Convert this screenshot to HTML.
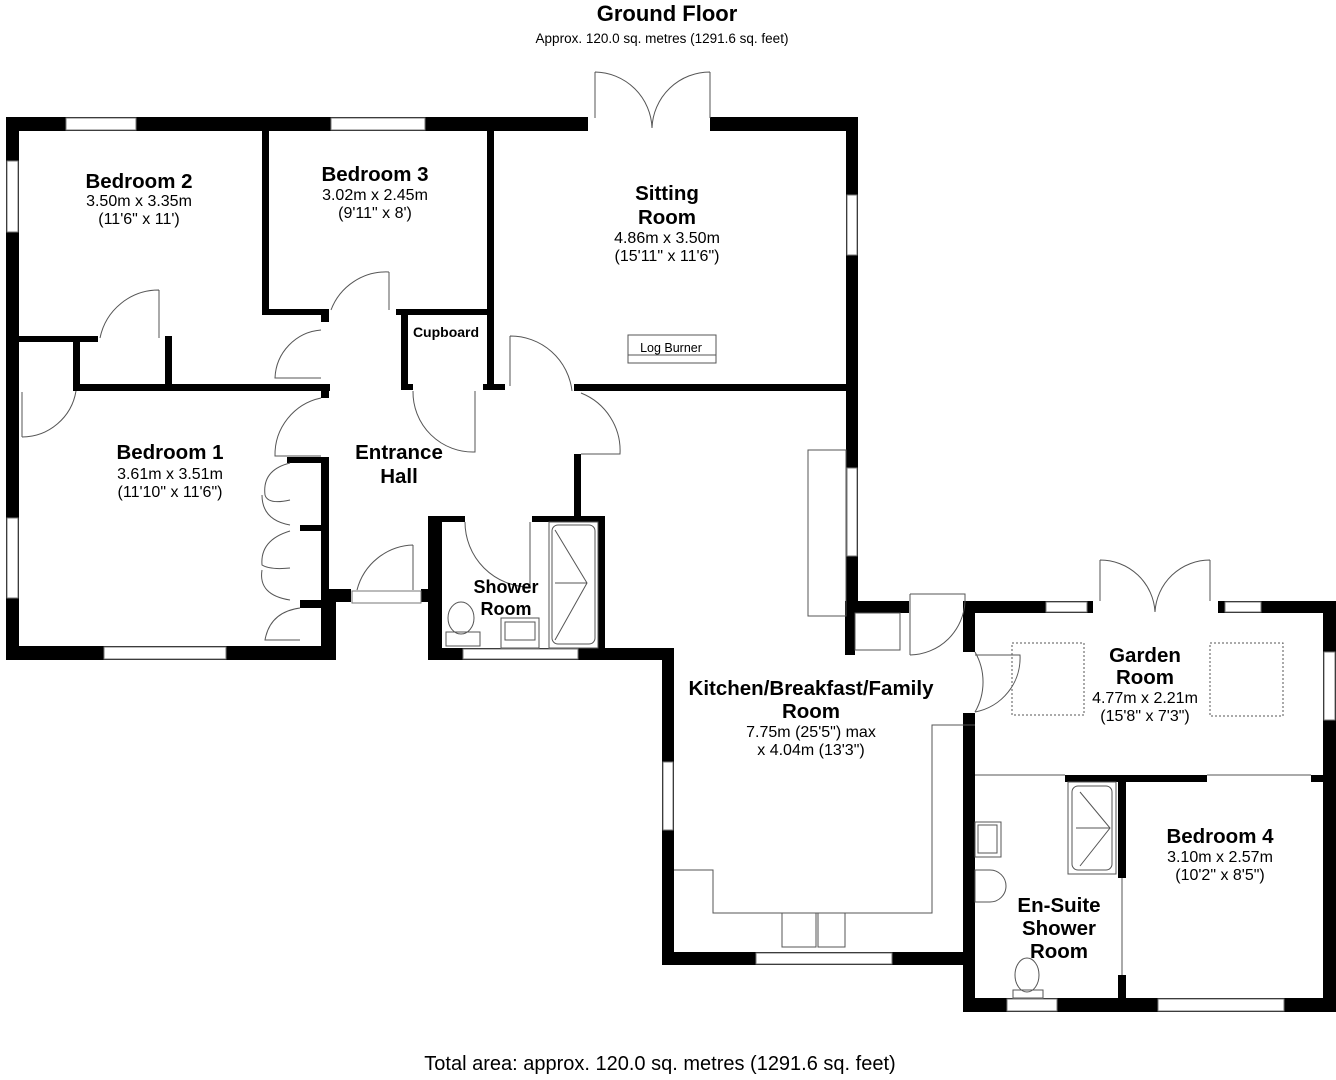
<!DOCTYPE html>
<html><head><meta charset="utf-8"><style>
html,body{margin:0;padding:0;background:#fff;}
svg{display:block;}
text{font-family:"Liberation Sans",Arial,sans-serif;fill:#000;}
.t{font-weight:bold;font-size:20.5px;text-anchor:middle;}
.d{font-size:16px;text-anchor:middle;}
</style></head><body>
<svg width="1336" height="1080" viewBox="0 0 1336 1080" xmlns="http://www.w3.org/2000/svg">
<rect width="1336" height="1080" fill="#fff"/>
<text x="667" y="21" class="t" style="font-size:22px">Ground Floor</text>
<text x="662" y="43" class="d" style="font-size:13.5px">Approx. 120.0 sq. metres (1291.6 sq. feet)</text>
<text x="660" y="1070" class="d" style="font-size:20px">Total area: approx. 120.0 sq. metres (1291.6 sq. feet)</text>

<g fill="#000">
<rect x="6" y="117" width="582" height="14"/>
<rect x="710" y="117" width="148" height="14"/>
<rect x="6" y="117" width="13" height="543"/>
<rect x="6" y="646" width="330" height="14"/>
<rect x="262" y="131" width="7" height="184"/>
<rect x="262" y="309" width="67" height="6"/>
<rect x="396" y="309" width="96" height="6"/>
<rect x="487" y="131" width="7" height="259"/>
<rect x="483" y="384" width="22" height="6"/>
<rect x="401" y="309" width="7" height="81"/>
<rect x="401" y="384" width="12" height="6"/>
<rect x="19" y="336" width="79" height="6"/>
<rect x="165" y="336" width="7" height="55"/>
<rect x="73" y="336" width="7" height="55"/>
<rect x="73" y="384" width="257" height="7"/>
<rect x="321" y="309" width="8" height="13"/>
<rect x="321" y="384" width="8" height="14"/>
<rect x="321" y="457" width="8" height="203"/>
<rect x="287" y="457" width="34" height="6"/>
<rect x="300" y="525" width="21" height="6"/>
<rect x="300" y="600" width="21" height="8"/>
<rect x="321" y="589" width="30" height="13"/>
<rect x="321" y="589" width="15" height="71"/>
<rect x="421" y="589" width="13" height="13"/>
<rect x="428" y="516" width="14" height="144"/>
<rect x="428" y="516" width="37" height="6"/>
<rect x="532" y="516" width="72" height="6"/>
<rect x="598" y="516" width="7" height="144"/>
<rect x="428" y="648" width="246" height="12"/>
<rect x="574" y="454" width="7" height="62"/>
<rect x="574" y="384" width="284" height="7"/>
<rect x="846" y="117" width="12" height="495"/>
<rect x="845" y="601" width="64" height="12"/>
<rect x="845" y="601" width="10" height="54"/>
<rect x="662" y="648" width="12" height="317"/>
<rect x="662" y="952" width="313" height="13"/>
<rect x="963" y="601" width="12" height="51"/>
<rect x="963" y="713" width="12" height="299"/>
<rect x="963" y="601" width="130" height="12"/>
<rect x="1218" y="601" width="118" height="12"/>
<rect x="1323" y="601" width="13" height="411"/>
<rect x="963" y="998" width="373" height="14"/>
<rect x="1065" y="775" width="142" height="7"/>
<rect x="1311" y="775" width="12" height="7"/>
<rect x="1118" y="775" width="8" height="103"/>
<rect x="1118" y="975" width="8" height="25"/>
</g>

<g fill="#fff" stroke="#777" stroke-width="1">
<rect x="66" y="118" width="70" height="12"/>
<rect x="331" y="118" width="94" height="12"/>
<rect x="7" y="161" width="11" height="71"/>
<rect x="7" y="518" width="11" height="80"/>
<rect x="104" y="647" width="122" height="12"/>
<rect x="463" y="649" width="115" height="10"/>
<rect x="352" y="591" width="69" height="12"/>
<rect x="847" y="195" width="10" height="60"/>
<rect x="847" y="468" width="10" height="88"/>
<rect x="663" y="762" width="10" height="68"/>
<rect x="756" y="953" width="136" height="11"/>
<rect x="1046" y="602" width="41" height="10"/>
<rect x="1225" y="602" width="36" height="10"/>
<rect x="1324" y="652" width="11" height="68"/>
<rect x="1007" y="999" width="50" height="12"/>
<rect x="1158" y="999" width="126" height="12"/>
</g>

<g fill="none" stroke="#555" stroke-width="1">
<path d="M595 72 V118 M710 72 V118 M595 72 A58 58 0 0 1 652 128 M710 72 A58 58 0 0 0 652 128"/>
<path d="M1100 560 V601 M1210 560 V601 M1100 560 A55 55 0 0 1 1155 612 M1210 560 A55 55 0 0 0 1155 612"/>
<path d="M159 290 V338 M159 290 A60 60 0 0 0 100 338"/>
<path d="M22 392 V437 M22 437 A55 55 0 0 0 76 391"/>
<path d="M389 272 V310 M389 272 A59 59 0 0 0 331 310"/>
<path d="M321 330 A50 50 0 0 0 275 378 H321"/>
<path d="M321 398 A58 58 0 0 0 275 456 H321"/>
<path d="M413 391 A60 60 0 0 0 475 452 V391"/>
<path d="M510 336 V386 M510 336 A62 62 0 0 1 572 391 M581 393 A62 62 0 0 1 620 454 H581"/>
<path d="M465 522 A65 65 0 0 0 530 587 V522"/>
<path d="M413 545 V590 M413 545 A60 60 0 0 0 357 590"/>
<path d="M290 463 Q262 470 265 495 Q268 505 290 500 M290 525 Q262 520 262 495"/>
<path d="M290 531 Q260 540 262 565 Q270 570 290 568 M290 600 Q258 595 262 570"/>
<path d="M300 608 Q270 612 265 640 H300"/>
<rect x="808" y="450" width="38" height="166"/>
<rect x="628" y="335" width="88" height="28"/>
<path d="M628 355 H716"/>
<path d="M910 594 H965 V601 M910 594 V655 M910 655 A56 56 0 0 0 965 601"/>
<rect x="855" y="613" width="45" height="37"/>
<path d="M975 652 A60 60 0 0 1 975 712"/>
<path d="M975 655 H1020 A55 55 0 0 1 975 712"/>
<path d="M975 725 H932 V913 H713 V870 H674"/>
<rect x="782" y="913" width="34" height="34"/><rect x="818" y="913" width="27" height="34"/>
<rect x="549" y="522" width="49" height="126"/>
<rect x="552" y="525" width="43" height="119" rx="6"/>
<path d="M555 530 L587 583 L555 640 M555 583 H587"/>
<rect x="501" y="618" width="38" height="30"/><rect x="505" y="622" width="30" height="18"/>
<ellipse cx="461" cy="618" rx="13" ry="16"/><rect x="446" y="632" width="34" height="14"/>
<rect x="1012" y="643" width="72" height="72" stroke-dasharray="2 2"/>
<rect x="1210" y="643" width="73" height="73" stroke-dasharray="2 2"/>
<path d="M975 775 H1065 M1207 775 H1311"/>
<path d="M1122 878 V975"/>
<rect x="1068" y="782" width="48" height="92"/><rect x="1072" y="786" width="40" height="84" rx="6"/>
<path d="M1080 792 L1110 828 L1080 866 M1076 828 H1110"/>
<rect x="975" y="822" width="26" height="35"/><rect x="978" y="825" width="19" height="28"/>
<path d="M975 870 H990 A16 16 0 0 1 990 902 H975 Z"/>
<ellipse cx="1027" cy="975" rx="12" ry="17"/><rect x="1013" y="990" width="30" height="8"/>
</g>

<text x="139" y="188" class="t">Bedroom 2</text>
<text x="139" y="206" class="d">3.50m x 3.35m</text>
<text x="139" y="224" class="d">(11'6" x 11')</text>
<text x="375" y="181" class="t">Bedroom 3</text>
<text x="375" y="200" class="d">3.02m x 2.45m</text>
<text x="375" y="218" class="d">(9'11" x 8')</text>
<text x="667" y="200" class="t">Sitting</text>
<text x="667" y="224" class="t">Room</text>
<text x="667" y="243" class="d">4.86m x 3.50m</text>
<text x="667" y="261" class="d">(15'11" x 11'6")</text>
<text x="446" y="337" class="t" style="font-size:14px">Cupboard</text>
<text x="671" y="352" class="d" style="font-size:12.5px">Log Burner</text>
<text x="170" y="459" class="t">Bedroom 1</text>
<text x="170" y="479" class="d">3.61m x 3.51m</text>
<text x="170" y="497" class="d">(11'10" x 11'6")</text>
<text x="399" y="459" class="t">Entrance</text>
<text x="399" y="483" class="t">Hall</text>
<text x="506" y="593" class="t" style="font-size:18px">Shower</text>
<text x="506" y="615" class="t" style="font-size:18px">Room</text>
<text x="811" y="695" class="t">Kitchen/Breakfast/Family</text>
<text x="811" y="718" class="t">Room</text>
<text x="811" y="737" class="d">7.75m (25'5") max</text>
<text x="811" y="755" class="d">x 4.04m (13'3")</text>
<text x="1145" y="662" class="t">Garden</text>
<text x="1145" y="684" class="t">Room</text>
<text x="1145" y="703" class="d">4.77m x 2.21m</text>
<text x="1145" y="721" class="d">(15'8" x 7'3")</text>
<text x="1220" y="843" class="t">Bedroom 4</text>
<text x="1220" y="862" class="d">3.10m x 2.57m</text>
<text x="1220" y="880" class="d">(10'2" x 8'5")</text>
<text x="1059" y="912" class="t">En-Suite</text>
<text x="1059" y="935" class="t">Shower</text>
<text x="1059" y="958" class="t">Room</text>
</svg>
</body></html>
